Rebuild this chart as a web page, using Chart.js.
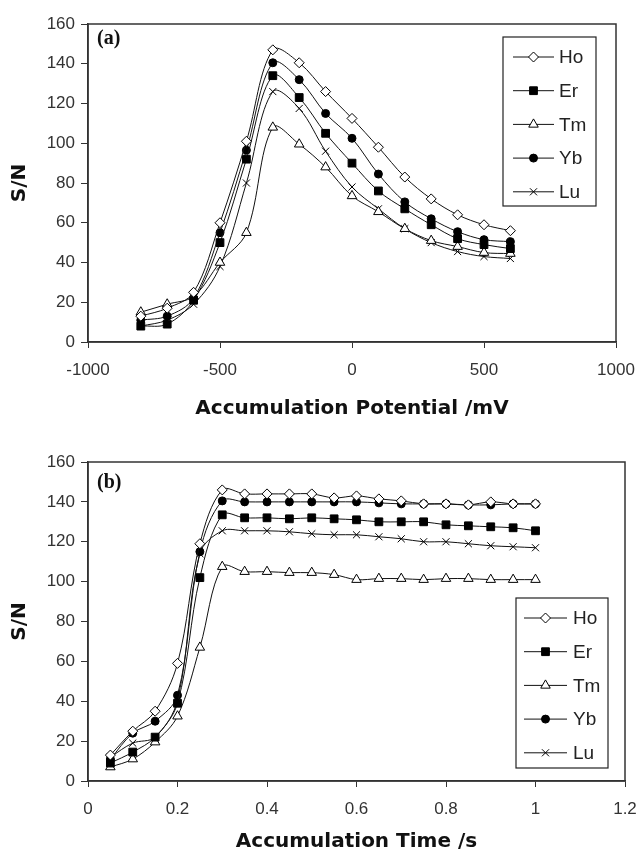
<!DOCTYPE html>
<html>
<head>
<meta charset="utf-8">
<script src="https://cdn.jsdelivr.net/npm/chart.js@4.4.0/dist/chart.umd.min.js"></script>
<style>
    body { margin: 0; background: #fff; }
    .box { position: absolute; left: 0; width: 638px; }
    #boxA { top: 0; height: 430px; }
    #boxB { top: 430px; height: 424px; }
</style>
</head>
<body>
<div class="box" id="boxA"><canvas id="chartA"></canvas></div>
<div class="box" id="boxB"><canvas id="chartB"></canvas></div>
<script>
// Chart (a): S/N vs accumulation potential
const potential = [-800, -700, -600, -500, -400, -300, -200, -100, 0, 100, 200, 300, 400, 500, 600];
const hoA = [13, 17, 25, 60, 101, 147, 140.5, 126, 112.5, 98, 83, 72, 64, 59, 56];
const erA = [8, 9, 21, 50, 92, 134, 123, 105, 90, 76, 67, 59, 52, 49, 47];
const tmA = [15, 19, 23, 40, 55, 108, 99.5, 88, 73.5, 65.5, 57, 51, 48, 45, 44.5];
const ybA = [11, 13, 22, 55, 96.5, 140.5, 132, 115, 102.5, 84.5, 70.5, 62, 55.5, 51.5, 50.5];
const luA = [8, 11, 19, 38, 80, 126, 117.5, 96, 78, 67, 57, 50, 45.5, 43, 42];

// Chart (b): S/N vs accumulation time
const time = [0.05, 0.1, 0.15, 0.2, 0.25, 0.3, 0.35, 0.4, 0.45, 0.5, 0.55, 0.6, 0.65, 0.7, 0.75, 0.8, 0.85, 0.9, 0.95, 1.0];
const hoB = [13, 25, 35, 59, 119, 146, 144, 144, 144, 144, 142, 143, 141.5, 140.5, 139, 139, 138.5, 140, 139, 139];
const erB = [9, 14.5, 22, 39, 102, 133.5, 132, 132, 131.5, 132, 131.5, 131, 130, 130, 130, 128.5, 128, 127.5, 127, 125.5];
const tmB = [7, 11, 19.5, 32.5, 67, 107.5, 105, 105, 104.5, 104.5, 103.5, 101, 101.5, 101.5, 101, 101.5, 101.5, 101, 101, 101];
const ybB = [11, 24, 30, 43, 115, 140.5, 140, 140, 140, 140, 140, 140, 139.5, 139, 139, 139, 138.5, 138.5, 139, 139];
const luB = [12, 19, 22, 40.5, 114, 125.5, 125.5, 125.5, 125, 124, 123.5, 123.5, 122.5, 121.5, 120, 120, 119, 118, 117.5, 117];

const seriesNames = ['Ho', 'Er', 'Tm', 'Yb', 'Lu'];
const xTicksA = [-1000, 1000, 500];   // min, max, step
const xTicksB = [0, 1.2, 0.2];
const yTicks = [0, 160, 20];

// marker look for each element
const markers = {
    Ho: { pointStyle: 'rectRot', radius: 5, fill: '#fff' },
    Er: { pointStyle: 'rect', radius: 5.5, fill: '#000' },
    Tm: { pointStyle: 'triangle', radius: 5.5, fill: '#fff' },
    Yb: { pointStyle: 'circle', radius: 4, fill: '#000' },
    Lu: { pointStyle: 'crossRot', radius: 5, fill: '#000' }
};

const tickFont = { family: "'Liberation Sans', Arial, sans-serif", size: 17 };
const titleFont = { family: "'DejaVu Sans', sans-serif", size: 20, weight: 'bold' };

function buildDatasets(xs, lists) {
    return lists.map((ys, i) => {
        const m = markers[seriesNames[i]];
        return {
            label: seriesNames[i],
            data: xs.map((x, j) => ({ x: x, y: ys[j] })),
            borderColor: '#111',
            borderWidth: 1,
            backgroundColor: m.fill,
            pointStyle: m.pointStyle,
            pointRadius: m.radius,
            pointBorderColor: '#000',
            pointBackgroundColor: m.fill,
            pointBorderWidth: 1,
            tension: 0.35
        };
    });
}

function drawMarker(ctx, name, x, y) {
    const m = markers[name];
    ctx.save();
    ctx.fillStyle = m.fill;
    ctx.strokeStyle = '#000';
    ctx.lineWidth = 1;
    Chart.helpers.drawPoint(ctx, { pointStyle: m.pointStyle, radius: m.radius, rotation: 0, borderWidth: 1 }, x, y);
    ctx.restore();
}

// frame, panel label and boxed legend
const framePlugin = {
    id: 'frame',
    afterDraw(chart, args, opts) {
        const ctx = chart.ctx;
        const a = chart.chartArea;
        ctx.save();
        ctx.strokeStyle = '#333';
        ctx.lineWidth = 1.5;
        ctx.strokeRect(a.left, a.top, a.right - a.left, a.bottom - a.top);

        ctx.fillStyle = '#111';
        ctx.font = "bold 20px 'Liberation Serif', 'Times New Roman', serif";
        ctx.textBaseline = 'middle';
        ctx.textAlign = 'left';
        ctx.fillText(opts.panel, a.left + 9, a.top + opts.panelDy);

        const lg = opts.legend;
        ctx.lineWidth = 1.2;
        ctx.strokeStyle = '#222';
        ctx.strokeRect(lg.left, lg.top, lg.width, lg.height);
        ctx.font = "19px 'Liberation Sans', Arial, sans-serif";
        seriesNames.forEach((name, i) => {
            const y = lg.top + lg.first + i * lg.rowH;
            ctx.beginPath();
            ctx.lineWidth = 1;
            ctx.strokeStyle = '#111';
            ctx.moveTo(lg.left + lg.lineX0, y);
            ctx.lineTo(lg.left + lg.lineX1, y);
            ctx.stroke();
            drawMarker(ctx, name, lg.left + (lg.lineX0 + lg.lineX1) / 2, y);
            ctx.fillStyle = '#222';
            ctx.fillText(name, lg.left + lg.textX, y + 1);
        });
        ctx.restore();
    }
};

function makeChart(id, xs, lists, xRange, xTitle, pad, xAxisH, yTitlePad, xTitlePad, frameOpts) {
    const ctx = document.getElementById(id).getContext('2d');
    return new Chart(ctx, {
        type: 'line',
        data: { datasets: buildDatasets(xs, lists) },
        plugins: [framePlugin],
        options: {
            responsive: true,
            maintainAspectRatio: false,
            animation: false,
            layout: { padding: pad },
            plugins: {
                legend: { display: false },
                tooltip: { enabled: false },
                frame: frameOpts
            },
            scales: {
                x: {
                    type: 'linear',
                    min: xRange[0],
                    max: xRange[1],
                    afterFit: s => {
                        s.height = xAxisH;
                        // let the last tick label hang into the right margin
                        s.paddingRight = 0;
                    },
                    ticks: {
                        stepSize: xRange[2],
                        font: tickFont,
                        color: '#333',
                        padding: 12,
                        maxRotation: 0,
                        callback: v => String(Math.round(v * 10) / 10)
                    },
                    grid: { drawOnChartArea: false, drawTicks: true, tickLength: 6, color: '#333' },
                    border: { color: '#333', width: 1.5 },
                    title: { display: true, text: xTitle, font: titleFont, color: '#111', padding: { top: 0, bottom: xTitlePad } }
                },
                y: {
                    min: yTicks[0],
                    max: yTicks[1],
                    afterFit: s => { s.width = 88; },
                    ticks: { stepSize: yTicks[2], font: tickFont, color: '#333', padding: 6 },
                    grid: { drawOnChartArea: false, drawTicks: true, tickLength: 7, color: '#333' },
                    border: { color: '#333', width: 1.5 },
                    title: { display: true, text: 'S/N', font: titleFont, color: '#111', padding: { top: yTitlePad, bottom: 0 } }
                }
            }
        }
    });
}

makeChart('chartA', potential, [hoA, erA, tmA, ybA, luA], xTicksA, 'Accumulation Potential /mV',
    { top: 24, right: 22, left: 0, bottom: 0 }, 88, 8, 9,
    { panel: '(a)', panelDy: 15,
      legend: { left: 503, top: 37, width: 93, height: 169, first: 20, rowH: 33.7, lineX0: 10, lineX1: 51, textX: 56 } });

makeChart('chartB', time, [hoB, erB, tmB, ybB, luB], xTicksB, 'Accumulation Time /s',
    { top: 32, right: 13, left: 0, bottom: 0 }, 73, 8, 0,
    { panel: '(b)', panelDy: 21,
      legend: { left: 516, top: 168, width: 92, height: 170, first: 20, rowH: 33.7, lineX0: 8, lineX1: 51, textX: 57 } });
</script>
</body>
</html>
